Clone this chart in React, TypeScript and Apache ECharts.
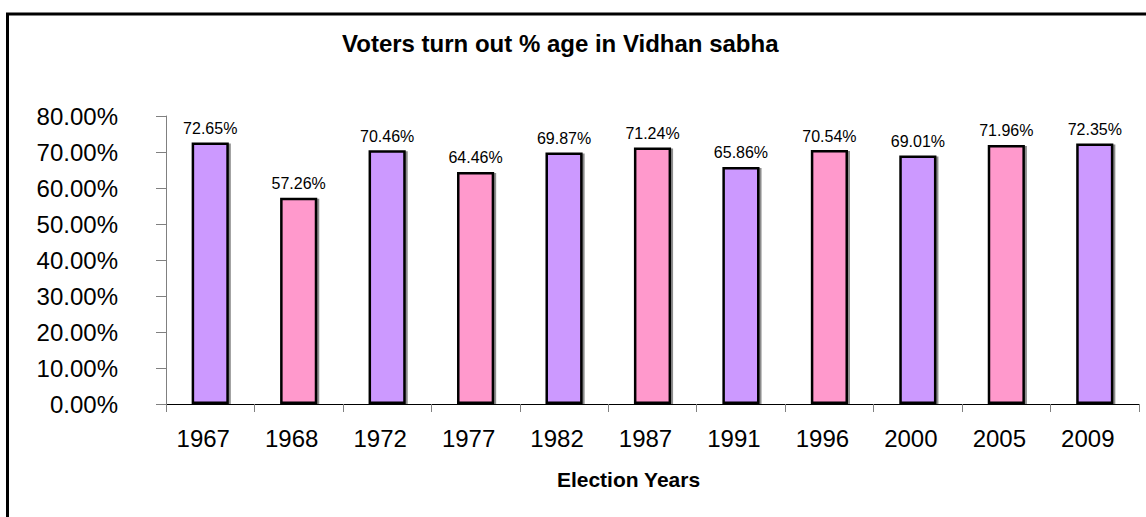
import React, { useEffect, useRef } from "react";
import * as echarts from "echarts";

const years = ["1967", "1968", "1972", "1977", "1982", "1987", "1991", "1996", "2000", "2005", "2009"];
const turnout = [72.65, 57.26, 70.46, 64.46, 69.87, 71.24, 65.86, 70.54, 69.01, 71.96, 72.35];
const barColors = ["#CC99FF", "#FF99CC"];
const titleText = "Voters turn out % age in Vidhan sabha";
const xName = "Election Years";

const FONT = "'Liberation Sans', Arial, sans-serif";

export default function App() {
  const ref = useRef<HTMLDivElement>(null);
  useEffect(() => {
    if (!ref.current) return;
    const chart = echarts.init(ref.current, undefined, { renderer: "svg" });
    chart.setOption({
      animation: false,
      backgroundColor: "#ffffff",
      textStyle: { fontFamily: FONT },
      title: {
        text: titleText,
        left: 342,
        top: 31,
        padding: 0,
        textStyle: { fontFamily: FONT, fontSize: 24, fontWeight: "bold", color: "#000" },
      },
      grid: { left: 166, right: 7, top: 116, bottom: 113, containLabel: false },
      xAxis: {
        type: "category",
        data: years,
        name: xName,
        nameLocation: "middle",
        nameGap: 65,
        nameTextStyle: {
          fontFamily: FONT,
          fontSize: 21,
          fontWeight: "bold",
          color: "#000",
          padding: [0, 48, 0, 0],
        },
        axisLine: { lineStyle: { color: "#000", width: 1 } },
        axisTick: { show: true, alignWithLabel: false, length: 8, lineStyle: { color: "#808080" } },
        axisLabel: {
          fontFamily: FONT,
          fontSize: 24,
          color: "#000",
          margin: 22,
          padding: [0, 14, 0, 0],
          interval: 0,
        },
        splitLine: { show: false },
      },
      yAxis: {
        type: "value",
        min: 0,
        max: 80,
        interval: 10,
        axisLine: { show: true, lineStyle: { color: "#808080", width: 1 } },
        axisTick: { show: true, length: 10, lineStyle: { color: "#808080" } },
        axisLabel: {
          fontFamily: FONT,
          fontSize: 24,
          color: "#000",
          margin: 48,
          formatter: (v: number) => v.toFixed(2) + "%",
        },
        splitLine: { show: false },
      },
      series: [
        {
          type: "bar",
          data: turnout.map((v, i) => ({
            value: v,
            itemStyle: { color: barColors[i % 2] },
          })),
          barWidth: "42%",
          itemStyle: {
            borderColor: "#000",
            borderWidth: 2.5,
            shadowColor: "rgba(0,0,0,0.45)",
            shadowBlur: 1,
            shadowOffsetX: 2,
            shadowOffsetY: 1,
          },
          label: {
            show: true,
            position: "top",
            distance: 6,
            fontFamily: FONT,
            fontSize: 16,
            color: "#000",
            formatter: (p: any) => Number(p.value).toFixed(2) + "%",
          },
        },
      ],
      graphic: [
        {
          type: "rect",
          shape: { x: 7.5, y: 14, width: 1300, height: 700 },
          style: { fill: "none", stroke: "#000", lineWidth: 3 },
          silent: true,
          z: 100,
        },
      ],
    });
    return () => chart.dispose();
  }, []);
  return (
    <div
      ref={ref}
      style={{ position: "absolute", left: 0, top: 0, width: 1146, height: 517 }}
    />
  );
}
